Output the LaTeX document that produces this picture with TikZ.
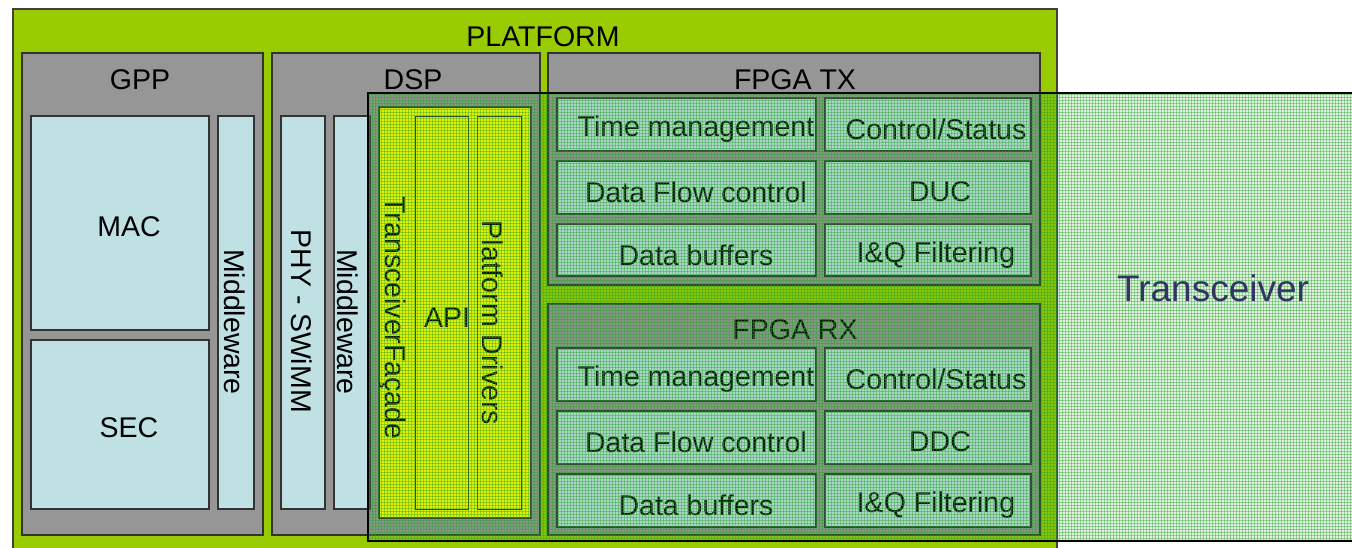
\documentclass[tikz,border=0pt]{standalone}
\usepackage{fontspec}
\setmainfont{Liberation Sans}

\definecolor{platgreen}{HTML}{99CC00}
\definecolor{unitgray}{HTML}{969696}
\definecolor{cellcyan}{HTML}{BFE1E4}
\definecolor{facadeyellow}{HTML}{FFFF00}
\definecolor{trxgreen}{RGB}{40,160,40}
\definecolor{trxtext}{RGB}{51,51,102}

\tikzset{
  every node/.style={inner sep=0pt, outer sep=0pt},
  platbox/.style={draw=black!75, line width=1.2pt, fill=platgreen},
  unitbox/.style={draw=black!80, line width=1.2pt, fill=unitgray},
  cellbox/.style={draw=black!80, line width=1.2pt, fill=cellcyan},
  facadebox/.style={draw=black!80, line width=1.2pt, fill=facadeyellow},
  slotbox/.style={draw=black!80, line width=1pt},
  txt/.style={font=\fontsize{28.5}{30}\selectfont, text=black},
  vtxt/.style={txt, rotate=-90},
  trxfill/.style={fill=trxgreen, fill opacity=0.15},
  trxgrid/.style={draw=trxgreen, draw opacity=0.4, line width=0.55pt},
  trxframe/.style={draw=black, line width=2.4pt},
}

% rectangle node given by its corners: name, style, x1, y1, x2, y2
\newcommand\boxnode[6]{%
  \node[#2, minimum width={#5-#3}, minimum height={#6-#4}] (#1)
    at ({(#3+#5)/2},{(#4+#6)/2}) {};}

\begin{document}
\begin{tikzpicture}[x=1pt, y=-1pt]
\useasboundingbox (0,0) rectangle (1352,547);
\clip (0,0) rectangle (1352,547);

% platform
\boxnode{platform}{platbox}{13}{9}{1057}{556}
\node[txt] (platformt) at (543,37) {PLATFORM};

% GPP
\boxnode{gpp}{unitbox}{22}{53}{263}{535}
\node[txt] (gppt) at (140,80) {GPP};
\boxnode{mac}{cellbox}{31}{116}{209}{330}
\node[txt] (mact) at (129,227) {MAC};
\boxnode{sec}{cellbox}{31}{340}{209}{509}
\node[txt] (sect) at (129,428) {SEC};
\boxnode{gppmw}{cellbox}{218}{116}{254}{509}
\node[vtxt] (gppmwt) at (235,322) {Middleware};

% DSP
\boxnode{dsp}{unitbox}{272}{53}{540}{535}
\node[txt] (dspt) at (413,80) {DSP};
\boxnode{phy}{cellbox}{281}{116}{325}{509}
\node[vtxt] (phyt) at (302,321) {PHY - SWiMM};
\boxnode{dspmw}{cellbox}{334}{116}{370}{509}
\node[vtxt] (dspmwt) at (348,322) {Middleware};

% transceiver facade
\boxnode{facade}{facadebox}{379}{107}{531}{518}
\node[vtxt] (facadet) at (393,318) {TransceiverFaçade};
\boxnode{api}{slotbox}{415}{116}{468}{509}
\node[txt] (apit) at (447,318) {API};
\boxnode{drivers}{slotbox}{477}{116}{521}{509}
\node[vtxt] (driverst) at (493,323) {Platform Drivers};

% FPGA TX
\boxnode{fpgatx}{unitbox}{548}{53}{1040}{285}
\node[txt] (fpgatxt) at (795,80) {FPGA TX};
\boxnode{tx1a}{cellbox}{557}{98}{816}{151}
\boxnode{tx1b}{cellbox}{825}{98}{1031}{151}
\boxnode{tx2a}{cellbox}{557}{161}{816}{214}
\boxnode{tx2b}{cellbox}{825}{161}{1031}{214}
\boxnode{tx3a}{cellbox}{557}{224}{816}{276}
\boxnode{tx3b}{cellbox}{825}{224}{1031}{276}
\node[txt] (tx1at) at (696,129) {Time management};
\node[txt] (tx1bt) at (936,129) {Control/Status};
\node[txt] (tx2at) at (696,192) {Data Flow control};
\node[txt] (tx2bt) at (940,192) {DUC};
\node[txt] (tx3at) at (696,255) {Data buffers};
\node[txt] (tx3bt) at (936,255) {I\&Q Filtering};

% FPGA RX
\boxnode{fpgarx}{unitbox}{548}{304}{1040}{535}
\node[txt] (fpgarxt) at (795,330) {FPGA RX};
\boxnode{rx1a}{cellbox}{557}{348}{816}{401}
\boxnode{rx1b}{cellbox}{825}{348}{1031}{401}
\boxnode{rx2a}{cellbox}{557}{411}{816}{464}
\boxnode{rx2b}{cellbox}{825}{411}{1031}{464}
\boxnode{rx3a}{cellbox}{557}{474}{816}{527}
\boxnode{rx3b}{cellbox}{825}{474}{1031}{527}
\node[txt] (rx1at) at (696,379) {Time management};
\node[txt] (rx1bt) at (936,379) {Control/Status};
\node[txt] (rx2at) at (696,442) {Data Flow control};
\node[txt] (rx2bt) at (940,442) {DDC};
\node[txt] (rx3at) at (696,505) {Data buffers};
\node[txt] (rx3bt) at (936,505) {I\&Q Filtering};

% transceiver layer laid over the platform: tint plus a fine mesh
\path[trxfill] (368,93) rectangle (1370,541);
\begin{scope}
  \clip (368,93) rectangle (1352,541);
  \foreach \gx in {369,372,...,1352} {\draw[trxgrid] (\gx,93) -- (\gx,541);}
  \foreach \gy in {94,97,...,541} {\draw[trxgrid] (368,\gy) -- (1352,\gy);}
\end{scope}
\boxnode{transceiver}{trxframe}{368}{93}{1370}{541}
\node[font=\fontsize{37}{40}\selectfont, text=trxtext] (transceivert) at (1213,288) {Transceiver};
\end{tikzpicture}
\end{document}
